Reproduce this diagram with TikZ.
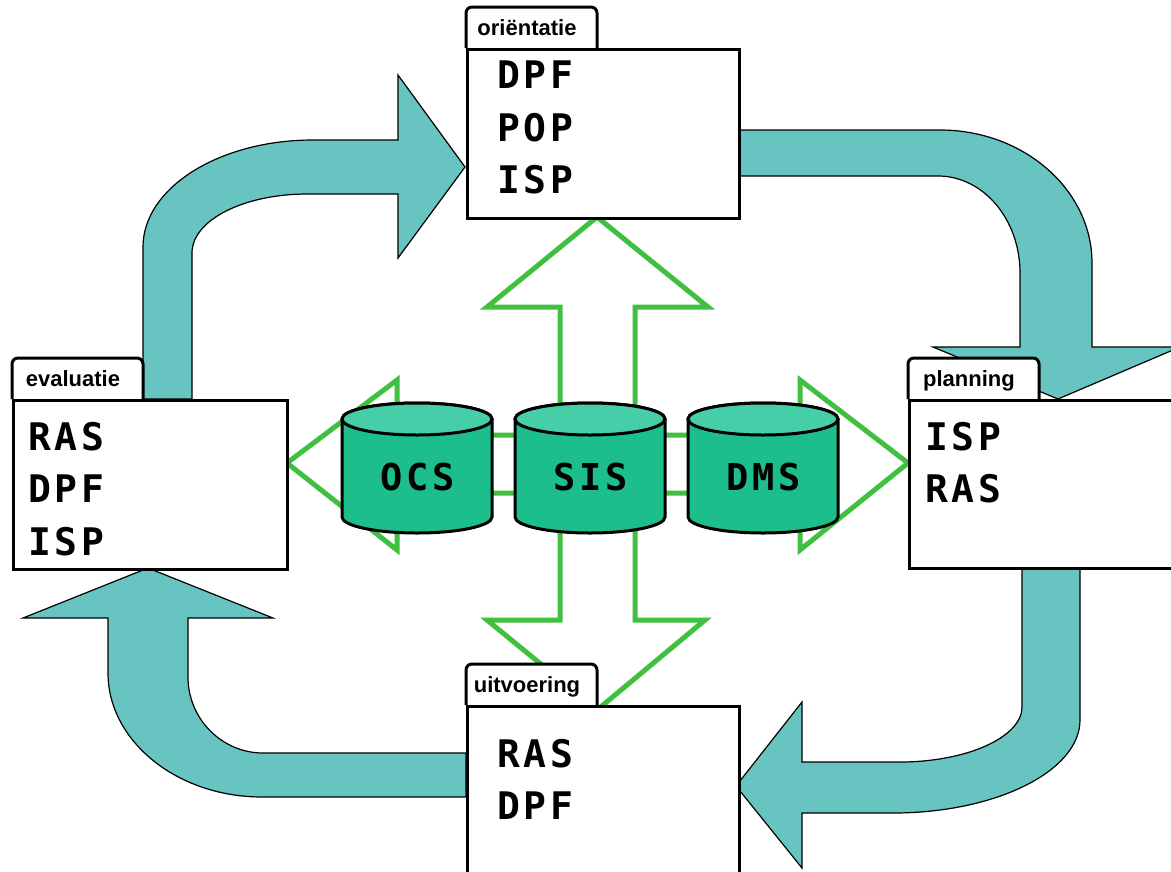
\documentclass[tikz,border=0pt]{standalone}
\usepackage{fontspec}
\usetikzlibrary{calc}
\newfontfamily\listfont[LetterSpace=10]{DejaVu Sans Mono}
\newfontfamily\tabfont{Liberation Sans}

\begin{document}
\begin{tikzpicture}[x=1pt,y=-1pt,
    card/.style={draw, line width=3pt, fill=white, anchor=north west, inner sep=0pt,
        minimum width=272pt, minimum height=169pt},
    tabline/.style={draw, line width=3pt, fill=white, rounded corners=6pt},
    tablabel/.style={anchor=base, inner sep=0pt, font=\tabfont\bfseries\fontsize{22}{24}\selectfont},
    items/.style={anchor=north west, align=left, inner sep=0pt,
        font=\listfont\bfseries\fontsize{38}{52.5}\selectfont},
    cyclearrow/.style={fill=cyclefill, draw=black, line width=1.2pt},
    cross/.style={draw=crossgreen, line width=5pt, line join=miter},
    drumbody/.style={fill=drumside, draw=black, line width=3pt},
    drumtop/.style={fill=drumlid, draw=black, line width=3pt},
    drumlabel/.style={inner sep=0pt, font=\listfont\bfseries\fontsize{37}{40}\selectfont}]
    % Define colors
    \definecolor{cyclefill}{RGB}{104,196,192}
    \definecolor{crossgreen}{RGB}{64,192,64}
    \definecolor{drumside}{RGB}{28,190,140}
    \definecolor{drumlid}{RGB}{70,206,168}

    % Draw background
    \useasboundingbox (0,0) rectangle (1171,871);
    \clip (0,0) rectangle (1171,871);
    \fill[white] (0,0) rectangle (1171,871);

    % Cycle arrows
    \draw[cyclearrow] (143,399) -- (143,247) .. controls (143,188) and (219,140) .. (313,140) -- (398,140)
        -- (398,75) -- (465,167) -- (398,258) -- (398,194) -- (307,194)
        .. controls (244,194) and (192,220) .. (192,253) -- (192,399) -- cycle;
    \draw[cyclearrow] (738,130) -- (940,130) .. controls (1024,130) and (1092,190) .. (1092,263) -- (1092,347)
        -- (1180,347) -- (1058,399) -- (933,347) -- (1020,347) -- (1020,273)
        .. controls (1020,219) and (983,176) .. (938,176) -- (738,176) -- cycle;
    \draw[cyclearrow] (1080,567) -- (1080,720) .. controls (1080,771) and (996,813) .. (893,813) -- (802,813)
        -- (802,868) -- (736,786) -- (802,702) -- (802,762) -- (900,762)
        .. controls (967,762) and (1022,737) .. (1022,707) -- (1022,567) -- cycle;
    \draw[cyclearrow] (466,753) -- (263,753) .. controls (222,753) and (188,719) .. (188,677) -- (188,618)
        -- (273,618) -- (148,568) -- (23,618) -- (108,618) -- (108,673)
        .. controls (108,741) and (177,797) .. (262,797) -- (466,797) -- cycle;

    % Open double arrows
    \draw[cross] (597,217) -- (708,307) -- (635,307) -- (635,620) -- (705,620) -- (597,710)
        -- (487,620) -- (560,620) -- (560,307) -- (487,307) -- cycle;
    \draw[cross] (287,463) -- (397,380) -- (397,435) -- (800,435) -- (800,380) -- (908,463)
        -- (800,550) -- (800,493) -- (397,493) -- (397,550) -- cycle;

    % Databases
    \path[drumbody] (342,419) -- (342,517) arc[start angle=180, end angle=0, x radius=75, y radius=16]
        -- (492,419) arc[start angle=0, end angle=-180, x radius=75, y radius=16] -- cycle;
    \path[drumtop] (417,419) ellipse[x radius=75, y radius=16];
    \node[drumlabel] (ocs) at (418,477) {OCS};

    \path[drumbody] (515,419) -- (515,517) arc[start angle=180, end angle=0, x radius=75, y radius=16]
        -- (665,419) arc[start angle=0, end angle=-180, x radius=75, y radius=16] -- cycle;
    \path[drumtop] (590,419) ellipse[x radius=75, y radius=16];
    \node[drumlabel] (sis) at (591,477) {SIS};

    \path[drumbody] (688,419) -- (688,517) arc[start angle=180, end angle=0, x radius=75, y radius=16]
        -- (838,419) arc[start angle=0, end angle=-180, x radius=75, y radius=16] -- cycle;
    \path[drumtop] (763,419) ellipse[x radius=75, y radius=16];
    \node[drumlabel] (dms) at (764,477) {DMS};

    % Phase cards
    \coordinate (o) at (466,48);
    \draw[tabline] (o) -- ++(0,-41) -- ++(131,0) -- ++(0,41);
    \node[card] (orient) at (o) {};
    \node[tablabel] (orienttab) at ($(o)+(61,-13)$) {oriëntatie};
    \node[items] (orientlist) at ($(o)+(31,13)$) {DPF\\POP\\ISP};

    \coordinate (e) at (12,399);
    \draw[tabline] (e) -- ++(0,-41) -- ++(131,0) -- ++(0,41);
    \node[card, minimum width=274pt] (eval) at (e) {};
    \node[tablabel] (evaltab) at ($(e)+(61,-13)$) {evaluatie};
    \node[items] (evallist) at ($(e)+(16,23)$) {RAS\\DPF\\ISP};

    \coordinate (p) at (908,399);
    \draw[tabline] (p) -- ++(0,-41) -- ++(131,0) -- ++(0,41);
    \node[card, minimum width=300pt, minimum height=168pt] (plan) at (p) {};
    \node[tablabel] (plantab) at ($(p)+(61,-13)$) {planning};
    \node[items] (planlist) at ($(p)+(17,23)$) {ISP\\RAS};

    \coordinate (u) at (466,705);
    \draw[tabline] (u) -- ++(0,-41) -- ++(131,0) -- ++(0,41);
    \node[card, minimum height=200pt] (uitv) at (u) {};
    \node[tablabel] (uitvtab) at ($(u)+(61,-13)$) {uitvoering};
    \node[items] (uitvlist) at ($(u)+(31,34)$) {RAS\\DPF};
\end{tikzpicture}
\end{document}
